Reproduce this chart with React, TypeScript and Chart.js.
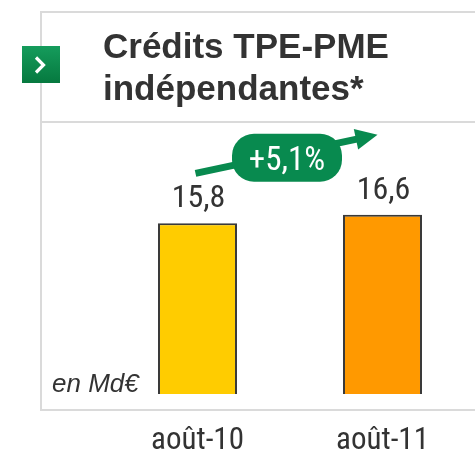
import { useEffect, useRef } from "react";
import { Chart, registerables } from "chart.js";

Chart.register(...registerables);

// ---- data ----
const categories = ["août-10", "août-11"];
const values = [15.8, 16.6];
const valueLabels = ["15,8", "16,6"];
const barColors = ["#FFCC00", "#FF9900"];
const growthLabel = "+5,1%";
const titleLines = ["Crédits TPE-PME", "indépendantes*"];
const unitLabel = "en Md€";
const yMin = 0;
const yMax = 20;

const NARROW = "'Roboto Condensed', 'Liberation Sans Narrow', 'Arial Narrow', 'DejaVu Sans Condensed', sans-serif";
const SANS = "'Liberation Sans', Arial, Helvetica, sans-serif";
const GREEN = "#088a4f";
const TEXT = "#333333";

const decorPlugin = {
  id: "decor",
  beforeDraw(chart: any) {
    const ctx = chart.ctx as CanvasRenderingContext2D;
    const W = chart.width;
    ctx.save();
    // frame
    ctx.strokeStyle = "#dadada";
    ctx.lineWidth = 2;
    ctx.beginPath();
    ctx.moveTo(W + 2, 12);
    ctx.lineTo(41, 12);
    ctx.lineTo(41, 410);
    ctx.lineTo(W + 2, 410);
    ctx.moveTo(41, 122);
    ctx.lineTo(W + 2, 122);
    ctx.stroke();

    // green marker square
    const g = ctx.createLinearGradient(22, 46, 22, 83);
    g.addColorStop(0, "#159c5c");
    g.addColorStop(1, "#06793f");
    ctx.fillStyle = g;
    ctx.fillRect(22, 46, 38, 37);
    ctx.strokeStyle = "#ffffff";
    ctx.lineWidth = 3.2;
    ctx.lineCap = "butt";
    ctx.lineJoin = "miter";
    ctx.beginPath();
    ctx.moveTo(36, 57.5);
    ctx.lineTo(43.5, 65);
    ctx.lineTo(36, 72.5);
    ctx.stroke();

    // title
    ctx.fillStyle = TEXT;
    ctx.font = `bold 35px ${SANS}`;
    ctx.textAlign = "left";
    ctx.textBaseline = "alphabetic";
    ctx.fillText(titleLines[0], 103, 58);
    ctx.fillText(titleLines[1], 103, 100);

    // unit label
    ctx.font = `italic 26px ${SANS}`;
    ctx.fillText(unitLabel, 52, 392);
    ctx.restore();
  },
  afterDatasetsDraw(chart: any) {
    const ctx = chart.ctx as CanvasRenderingContext2D;
    const bars = chart.getDatasetMeta(0).data;
    const b1 = bars[0];
    const b2 = bars[1];
    ctx.save();

    // value labels
    ctx.fillStyle = TEXT;
    ctx.font = `32px ${NARROW}`;
    ctx.textAlign = "center";
    ctx.textBaseline = "alphabetic";
    bars.forEach((b: any, i: number) => {
      ctx.fillText(valueLabels[i], b.x + 1, b.y - 16);
    });

    // growth arrow
    const sx = b1.x - 2;
    const sy = b1.y - 50;
    const ex = b2.x - 5;
    const ey = b2.y - 80;
    const dx = ex - sx;
    const dy = ey - sy;
    const len = Math.hypot(dx, dy);
    const ux = dx / len;
    const uy = dy / len;
    const nx = -uy;
    const ny = ux;
    const headLen = 22;
    const headHalf = 10.5;
    const bx = ex - ux * headLen;
    const by = ey - uy * headLen;
    ctx.strokeStyle = GREEN;
    ctx.fillStyle = GREEN;
    ctx.lineWidth = 7;
    ctx.lineCap = "butt";
    ctx.beginPath();
    ctx.moveTo(sx, sy);
    ctx.lineTo(bx + ux * 2, by + uy * 2);
    ctx.stroke();
    ctx.beginPath();
    ctx.moveTo(ex, ey);
    ctx.lineTo(bx + nx * headHalf, by + ny * headHalf);
    ctx.lineTo(bx - nx * headHalf, by - ny * headHalf);
    ctx.closePath();
    ctx.fill();

    // pill
    const pcx = (b1.x + b2.x) / 2 - 3;
    const pcy = b2.y - 57;
    const pw = 110;
    const ph = 48;
    ctx.beginPath();
    (ctx as any).roundRect(pcx - pw / 2, pcy - ph / 2, pw, ph, 22);
    ctx.fill();
    ctx.fillStyle = "#ffffff";
    ctx.font = `33px ${NARROW}`;
    ctx.textAlign = "center";
    ctx.textBaseline = "alphabetic";
    ctx.fillText(growthLabel, pcx, pcy + 12);
    ctx.restore();
  },
};

export default function App() {
  const canvasRef = useRef<HTMLCanvasElement | null>(null);

  useEffect(() => {
    const canvas = canvasRef.current;
    if (!canvas) return;
    const chart = new Chart(canvas, {
      type: "bar",
      data: {
        labels: categories,
        datasets: [
          {
            data: values,
            backgroundColor: barColors,
            borderColor: "#3a3a3a",
            borderWidth: 2,
            categoryPercentage: 1,
            barPercentage: 0.427,
          },
        ],
      },
      options: {
        animation: false,
        responsive: false,
        devicePixelRatio: 1,
        layout: { padding: { left: 105, right: 0, top: 178, bottom: 1 } },
        plugins: {
          legend: { display: false },
          tooltip: { enabled: false },
          title: { display: false },
        },
        scales: {
          x: {
            offset: true,
            grid: { display: false, drawTicks: false },
            border: { display: false },
            ticks: {
              color: TEXT,
              padding: 35,
              font: { family: NARROW, size: 31, lineHeight: 0.8 },
            },
            afterFit(scale: any) {
              scale.height = 60;
            },
          },
          y: {
            display: false,
            min: yMin,
            max: yMax,
          },
        },
      },
      plugins: [decorPlugin],
    });
    return () => chart.destroy();
  }, []);

  return (
    <div style={{ position: "absolute", left: 0, top: 0, width: 475, height: 455, background: "#ffffff" }}>
      <canvas ref={canvasRef} width={475} height={455} style={{ display: "block" }} />
    </div>
  );
}
